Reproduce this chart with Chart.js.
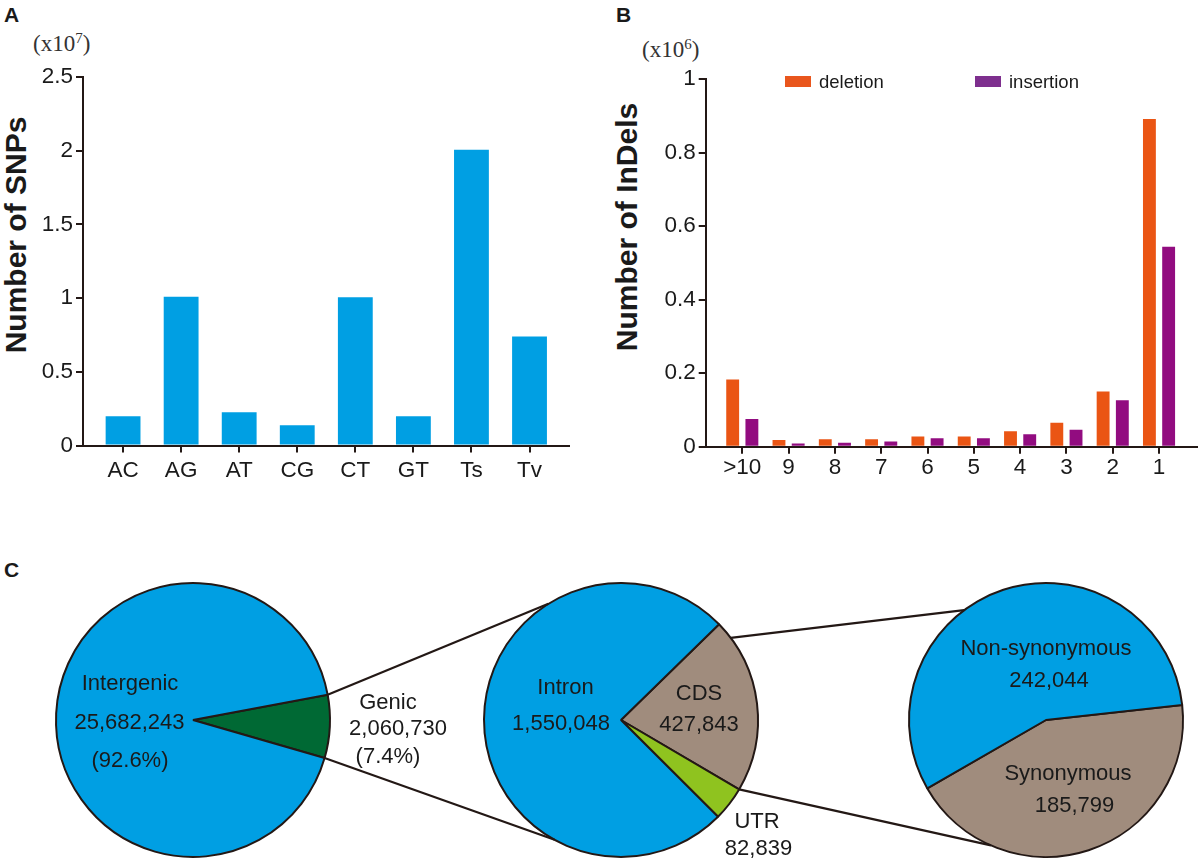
<!DOCTYPE html>
<html>
<head>
<meta charset="utf-8">
<script src="https://cdn.jsdelivr.net/npm/chart.js@4.4.1/dist/chart.umd.min.js"></script>
<style>
    html, body { margin: 0; padding: 0; background: #fff; }
    body { width: 1200px; height: 862px; position: relative; overflow: hidden; font-family: 'Liberation Sans', Arial, sans-serif; color: #1a1a1a; }
    canvas { position: absolute; }
    .txt { position: absolute; white-space: nowrap; transform: translate(-50%, -50%); line-height: 1; z-index: 5; }
    .panel { position: absolute; font-weight: bold; font-size: 21px; line-height: 1; }
    .unit { position: absolute; font-family: 'Liberation Serif', 'Times New Roman', serif; font-size: 23px; line-height: 1; color: #333; }
    .unit sup { font-size: 15px; vertical-align: 8px; }
    .ytitle { position: absolute; white-space: nowrap; font-weight: bold; font-size: 30px; line-height: 1; transform: translate(-50%, -50%) rotate(-90deg); }
    .legend-item { position: absolute; display: flex; align-items: center; font-size: 18.5px; }
    .legend-item span.sw { display: inline-block; width: 26px; height: 11px; margin-right: 8px; }
    #links { z-index: 4; pointer-events: none; }
</style>
</head>
<body>

<div class="panel" style="left:4px; top:4px;">A</div>
<div class="panel" style="left:616px; top:4px;">B</div>
<div class="panel" style="left:4px; top:559px;">C</div>

<div class="unit" style="left:33px; top:31px;">(x10<sup>7</sup>)</div>
<div class="unit" style="left:642px; top:37px;">(x10<sup>6</sup>)</div>

<div class="ytitle" style="left:16px; top:235px;">Number of SNPs</div>
<div class="ytitle" style="left:627px; top:227px;">Number of InDels</div>

<canvas id="snpChart" width="590" height="500" style="left:0; top:0; width:590px; height:500px;"></canvas>
<canvas id="indelChart" width="610" height="500" style="left:590px; top:0; width:610px; height:500px;"></canvas>

<canvas id="regionPie" width="290" height="290" style="left:48px; top:575px; width:290px; height:290px;"></canvas>
<canvas id="genicPie" width="290" height="290" style="left:476px; top:575px; width:290px; height:290px;"></canvas>
<canvas id="cdsPie" width="290" height="290" style="left:901px; top:575px; width:290px; height:290px;"></canvas>

<canvas id="links" width="1200" height="862" style="left:0; top:0; width:1200px; height:862px;"></canvas>

<div id="labels"></div>

<script>
// A: SNP types (x10^7)
const snpTypes = ['AC', 'AG', 'AT', 'CG', 'CT', 'GT', 'Ts', 'Tv'];
const snpCounts = [0.198, 1.01, 0.226, 0.138, 1.005, 0.198, 2.007, 0.74];
const snpTicks = [0, 0.5, 1, 1.5, 2, 2.5];

// B: InDel lengths (x10^6)
const indelSizes = ['>10', '9', '8', '7', '6', '5', '4', '3', '2', '1'];
const deletionCounts = [0.183, 0.018, 0.020, 0.020, 0.028, 0.028, 0.042, 0.065, 0.150, 0.891];
const insertionCounts = [0.075, 0.009, 0.011, 0.014, 0.023, 0.023, 0.034, 0.046, 0.126, 0.544];
const indelTicks = [0, 0.2, 0.4, 0.6, 0.8, 1];

// C: SNP annotation
const regionLabels = ['Genic', 'Intergenic'];
const regionCounts = [2060730, 25682243];
const genicLabels = ['CDS', 'UTR', 'Intron'];
const genicCounts = [427843, 82839, 1550048];
const cdsLabels = ['Synonymous', 'Non-synonymous'];
const cdsCounts = [185799, 242044];

const INK = '#231815';
const BLUE = '#009FE3';

Chart.defaults.font.family = "'Liberation Sans', Arial, sans-serif";
Chart.defaults.color = '#1a1a1a';
Chart.defaults.animation = false;
Chart.defaults.events = [];
Chart.defaults.plugins.legend.display = false;
Chart.defaults.plugins.tooltip.enabled = false;

function fixedTicks(values) {
    return (scale) => { scale.ticks = values.map(v => ({ value: v })); };
}

function barScales(cats, ticks, yMax, pad, xPad, yWidth) {
    return {
        x: {
            type: 'linear', offset: false,
            min: -pad[0], max: cats.length - 1 + pad[1],
            afterBuildTicks: fixedTicks(cats.map((_, i) => i)),
            afterFit: (s) => { s.height = 50; },
            grid: { offset: false, drawOnChartArea: false, tickLength: 7, lineWidth: 2, color: INK, tickColor: INK },
            border: { color: INK, width: 2 },
            ticks: { autoSkip: false, maxRotation: 0, padding: xPad, font: { size: 22.5 }, color: '#1a1a1a',
                     callback: (v) => cats[v] ?? '' }
        },
        y: {
            min: 0, max: yMax,
            afterBuildTicks: fixedTicks(ticks),
            afterFit: (s) => { s.width = yWidth; },
            grid: { drawOnChartArea: false, tickLength: 7, lineWidth: 2, color: INK, tickColor: INK },
            border: { color: INK, width: 2 },
            ticks: { padding: 3, font: { size: 22.5 }, color: '#1a1a1a', callback: (v) => String(+v.toFixed(2)) }
        }
    };
}

const snpChart = new Chart(document.getElementById('snpChart'), {
    type: 'bar',
    data: {
        datasets: [{
            label: 'SNPs',
            data: snpCounts.map((v, i) => ({ x: i, y: v })),
            backgroundColor: BLUE,
            categoryPercentage: 1, barPercentage: 0.6
        }]
    },
    options: {
        responsive: false,
        layout: { padding: { left: 0, top: 77, right: 21, bottom: 4.5 } },
        scales: barScales(snpTypes, snpTicks, 2.5, [0.69, 0.68], 5, 83)
    }
});

const indelChart = new Chart(document.getElementById('indelChart'), {
    type: 'bar',
    data: {
        datasets: [
            { label: 'deletion', data: deletionCounts.map((v, i) => ({ x: i, y: v })),
              backgroundColor: '#EA5514', legendColor: '#E9561D' },
            { label: 'insertion', data: insertionCounts.map((v, i) => ({ x: i, y: v })),
              backgroundColor: '#920C80', legendColor: '#7E2F8E' }
        ].map(ds => Object.assign(ds, { categoryPercentage: 0.83, barPercentage: 0.67 }))
    },
    options: {
        responsive: false,
        layout: { padding: { left: 0, top: 79, right: 3, bottom: 3.3 } },
        scales: barScales(indelSizes, indelTicks, 1, [0.79, 0.82], 1, 115.7)
    }
});

// legend for B
const legendSpots = [[785, 76], [975, 76]];
indelChart.data.datasets.forEach((ds, i) => {
    const el = document.createElement('div');
    el.className = 'legend-item';
    el.style.left = legendSpots[i][0] + 'px';
    el.style.top = (legendSpots[i][1] - 5) + 'px';
    el.style.height = '21px';
    el.innerHTML = '<span class="sw" style="background:' + ds.legendColor + '"></span>' + ds.label;
    document.body.appendChild(el);
});

function pie(id, counts, colors, rotation) {
    return new Chart(document.getElementById(id), {
        type: 'pie',
        data: { datasets: [{ data: counts, backgroundColor: colors, borderColor: INK, borderWidth: 2 }] },
        options: { responsive: false, radius: 137, rotation: rotation, layout: { padding: 0 } }
    });
}

const regionPie = pie('regionPie', regionCounts, ['#006934', BLUE], 79.4);
const genicPie = pie('genicPie', genicCounts, ['#A08C7D', '#8FC31F', BLUE], 45.7);
const cdsPie = pie('cdsPie', cdsCounts, ['#A08C7D', BLUE], 83.7);

// slice labels
const fmt = (n) => n.toLocaleString('en-US');
const regionTotal = regionCounts.reduce((a, b) => a + b, 0);
const pct = (n) => '(' + (100 * n / regionTotal).toFixed(1) + '%)';

const labelSpots = [
    [regionLabels[1], 130, 683], [fmt(regionCounts[1]), 129.5, 722], [pct(regionCounts[1]), 130, 760],
    [regionLabels[0], 388, 702], [fmt(regionCounts[0]), 398, 728], [pct(regionCounts[0]), 388, 756],
    [genicLabels[2], 565.5, 687], [fmt(genicCounts[2]), 561, 723],
    [genicLabels[0], 699, 693], [fmt(genicCounts[0]), 699, 724],
    [genicLabels[1], 757, 821], [fmt(genicCounts[1]), 758.5, 848],
    [cdsLabels[1], 1046, 648], [fmt(cdsCounts[1]), 1049, 680],
    [cdsLabels[0], 1068, 773], [fmt(cdsCounts[0]), 1074.5, 805]
];
const labelBox = document.getElementById('labels');
labelSpots.forEach(([text, x, y]) => {
    const el = document.createElement('div');
    el.className = 'txt';
    el.style.left = x + 'px';
    el.style.top = y + 'px';
    el.style.fontSize = '22px';
    el.textContent = text;
    labelBox.appendChild(el);
});

// zoom-out connectors between the pies
function arcPoint(chart, idx, frac) {
    const arc = chart.getDatasetMeta(0).data[idx];
    const a = arc.startAngle + (arc.endAngle - arc.startAngle) * frac;
    const box = chart.canvas.getBoundingClientRect();
    return [box.left + arc.x + arc.outerRadius * Math.cos(a), box.top + arc.y + arc.outerRadius * Math.sin(a)];
}
function rimPoint(chart, deg) {
    const arc = chart.getDatasetMeta(0).data[0];
    const a = deg * Math.PI / 180;
    const box = chart.canvas.getBoundingClientRect();
    return [box.left + arc.x + arc.outerRadius * Math.cos(a), box.top + arc.y + arc.outerRadius * Math.sin(a)];
}

const links = document.getElementById('links').getContext('2d');
links.strokeStyle = INK;
links.lineWidth = 2.2;
[
    [arcPoint(regionPie, 0, 0), rimPoint(genicPie, -122)],
    [arcPoint(regionPie, 0, 1), rimPoint(genicPie, 119)],
    [arcPoint(genicPie, 0, 0.1), rimPoint(cdsPie, -126.7)],
    [arcPoint(genicPie, 0, 1), rimPoint(cdsPie, 113.7)]
].forEach(([p, q]) => {
    links.beginPath();
    links.moveTo(p[0], p[1]);
    links.lineTo(q[0], q[1]);
    links.stroke();
});
</script>
</body>
</html>
